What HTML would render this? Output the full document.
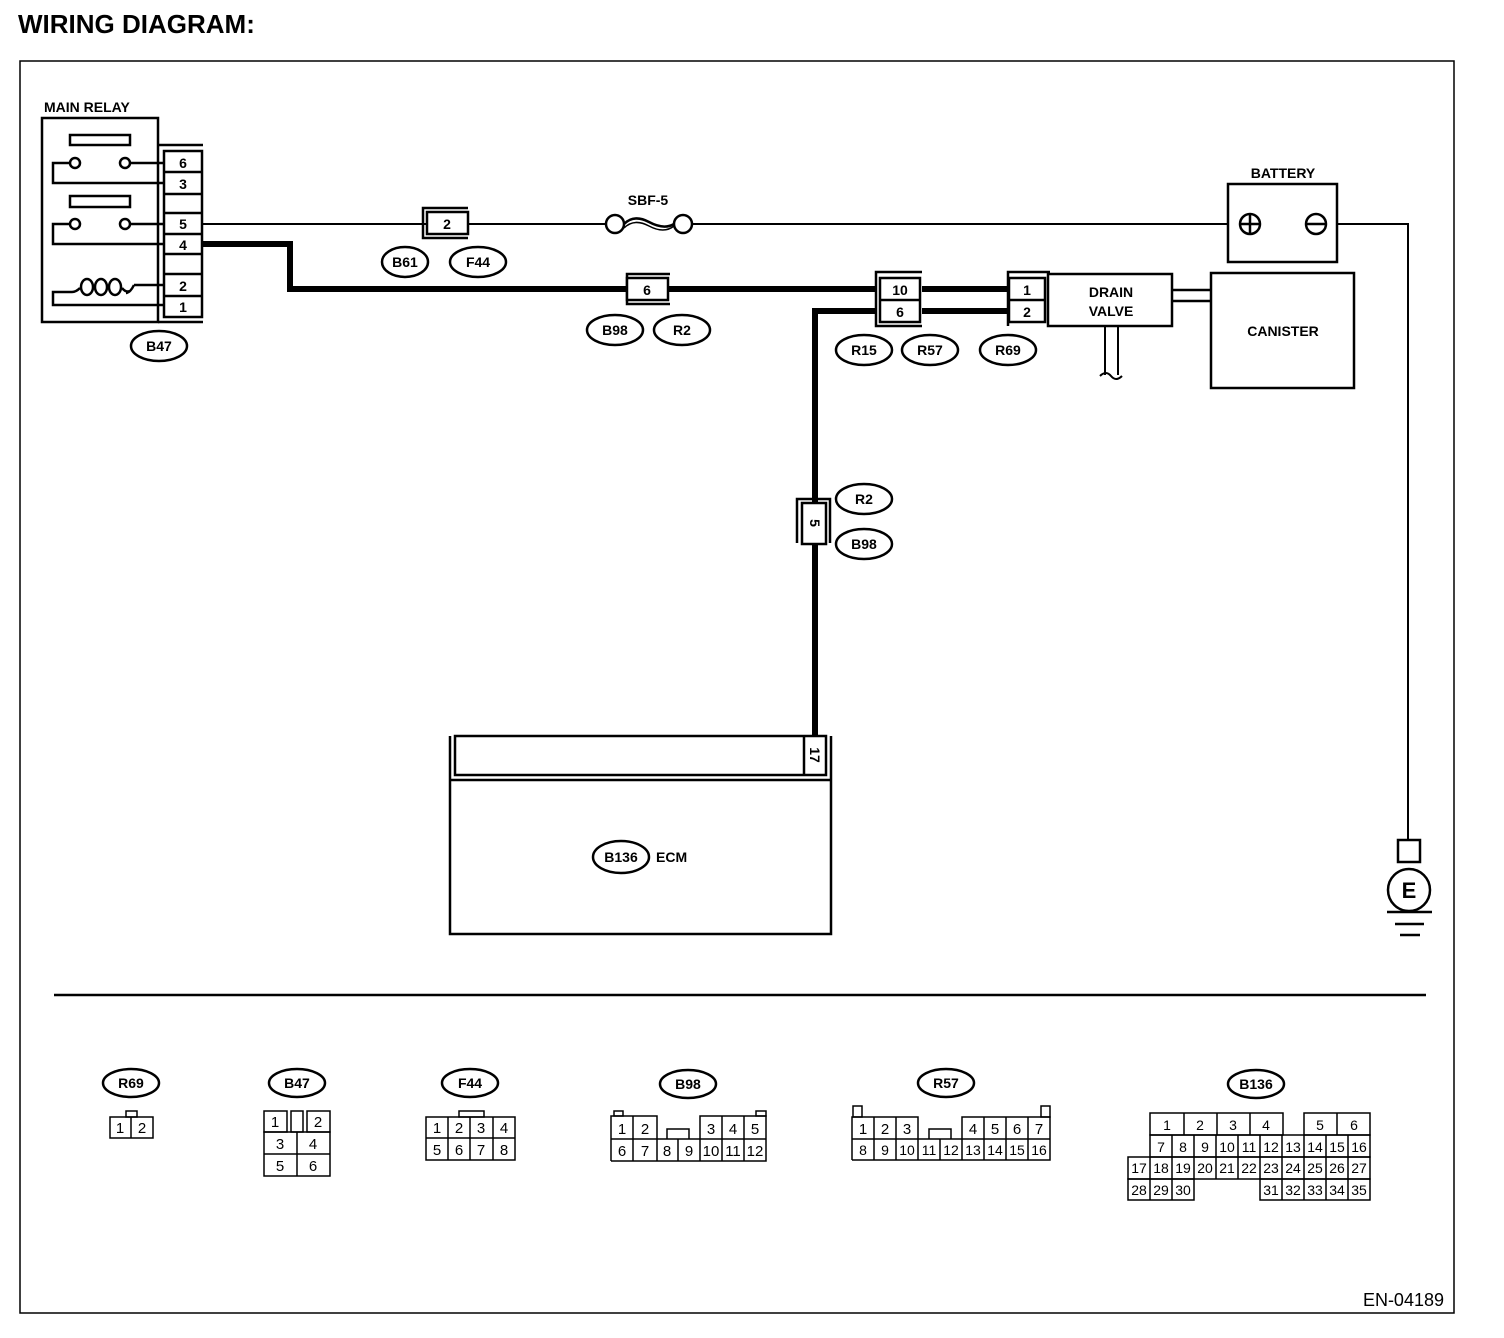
<!DOCTYPE html>
<html><head><meta charset="utf-8"><style>
html,body{margin:0;padding:0;background:#fff;}
svg{display:block;}
text{font-family:"Liberation Sans",sans-serif;fill:#000;}
.b{font-weight:bold;font-size:14px;}
.n{font-size:15px;}
</style></head><body>
<svg width="1504" height="1338" viewBox="0 0 1504 1338" xmlns="http://www.w3.org/2000/svg">
<text x="18" y="33" font-size="26" font-weight="bold">WIRING DIAGRAM:</text>
<rect x="20" y="61" width="1434" height="1252" fill="none" stroke="#000" stroke-width="1.5"/>

<g fill="none" stroke="#000" stroke-width="2.5">
<rect x="42" y="118" width="116" height="204"/>
<rect x="70" y="135" width="60" height="10"/>
<circle cx="75" cy="163" r="5"/><circle cx="125" cy="163" r="5"/>
<polyline points="70,163 53,163 53,183 164,183"/>
<line x1="130" y1="163" x2="164" y2="163"/>
<rect x="70" y="196" width="60" height="11"/>
<circle cx="75" cy="224" r="5"/><circle cx="125" cy="224" r="5"/>
<polyline points="70,224 53,224 53,244 164,244"/>
<line x1="130" y1="224" x2="164" y2="224"/>
<polyline points="164,285 134,285"/>
<path d="M134,285 Q130,293 126,293"/>
<ellipse cx="87" cy="287" rx="6" ry="8"/>
<ellipse cx="101" cy="287" rx="6" ry="8"/>
<ellipse cx="115" cy="287" rx="6" ry="8"/>
<path d="M72,292 Q76,292 80,288"/>
<path d="M122,288 Q126,293 130,291"/>
<polyline points="72,292 53,292 53,305 164,305"/>
<line x1="158" y1="145" x2="203" y2="145"/>
<line x1="158" y1="322" x2="203" y2="322"/>
<rect x="164" y="151" width="38" height="166"/>
<line x1="164" y1="172" x2="202" y2="172"/><line x1="164" y1="194" x2="202" y2="194"/>
<line x1="164" y1="213" x2="202" y2="213"/><line x1="164" y1="234" x2="202" y2="234"/>
<line x1="164" y1="254" x2="202" y2="254"/><line x1="164" y1="274" x2="202" y2="274"/>
<line x1="164" y1="296" x2="202" y2="296"/>
</g>
<text x="44" y="112" class="b">MAIN RELAY</text>
<g class="b" text-anchor="middle">
<text x="183" y="168">6</text><text x="183" y="189">3</text><text x="183" y="229">5</text>
<text x="183" y="250">4</text><text x="183" y="291">2</text><text x="183" y="312">1</text>
</g>

<g fill="none" stroke="#000">
<line x1="202" y1="224" x2="606" y2="224" stroke-width="2"/>
<line x1="692" y1="224" x2="1240" y2="224" stroke-width="2"/>
<polyline points="202,244 290,244 290,289 877,289" stroke-width="6"/>
<line x1="922" y1="289" x2="1008" y2="289" stroke-width="6"/>
<line x1="922" y1="311" x2="1008" y2="311" stroke-width="6"/>
<polyline points="876,311 815,311 815,737" stroke-width="6"/>
<polyline points="1326,224 1408,224 1408,840" stroke-width="2"/>
</g>

<g fill="#fff" stroke="#000" stroke-width="2.5">
<polyline points="468,208 423,208 423,238 468,238" fill="none"/>
<rect x="427" y="212" width="41" height="22"/>
<polyline points="670,274 627,274 627,304 670,304" fill="none"/>
<rect x="627" y="278" width="41" height="22"/>
</g>
<text x="447" y="229" class="b" text-anchor="middle">2</text>
<text x="647" y="295" class="b" text-anchor="middle">6</text>

<g fill="#fff" stroke="#000" stroke-width="2.5">
<circle cx="615" cy="224" r="9"/><circle cx="683" cy="224" r="9"/>
<path d="M624,224 Q634,214 649,222 Q664,230 674,224" fill="none"/>
<path d="M624,228 Q634,218 649,226 Q664,234 674,226" fill="none" stroke-width="1.5"/>
</g>
<text x="648" y="205" class="b" text-anchor="middle">SBF-5</text>

<g fill="#fff" stroke="#000" stroke-width="2.5">
<ellipse cx="159" cy="346" rx="28" ry="15"/>
<ellipse cx="405" cy="262" rx="23" ry="15"/><ellipse cx="478" cy="262" rx="28" ry="15"/>
<ellipse cx="615" cy="330" rx="28" ry="15"/><ellipse cx="682" cy="330" rx="28" ry="15"/>
<ellipse cx="864" cy="350" rx="28" ry="15"/><ellipse cx="930" cy="350" rx="28" ry="15"/><ellipse cx="1008" cy="350" rx="28" ry="15"/>
<ellipse cx="864" cy="499" rx="28" ry="15"/><ellipse cx="864" cy="544" rx="28" ry="15"/>
<ellipse cx="621" cy="857" rx="28" ry="16"/>
</g>
<g class="b" text-anchor="middle">
<text x="159" y="351">B47</text>
<text x="405" y="267">B61</text><text x="478" y="267">F44</text>
<text x="615" y="335">B98</text><text x="682" y="335">R2</text>
<text x="864" y="355">R15</text><text x="930" y="355">R57</text><text x="1008" y="355">R69</text>
<text x="864" y="504">R2</text><text x="864" y="549">B98</text>
<text x="621" y="862">B136</text>
</g>

<g fill="#fff" stroke="#000" stroke-width="2.5">
<polyline points="922,272 876,272 876,326 922,326" fill="none"/>
<rect x="880" y="278" width="40" height="44"/>
<line x1="880" y1="300" x2="920" y2="300"/>
<polyline points="1050,272 1008,272 1008,326" fill="none"/>
<rect x="1009" y="278" width="36" height="44"/>
<line x1="1009" y1="300" x2="1045" y2="300"/>
<rect x="1048" y="274" width="124" height="52" fill="none"/>
<line x1="1172" y1="290" x2="1211" y2="290"/><line x1="1172" y1="301" x2="1211" y2="301"/>
<rect x="1211" y="273" width="143" height="115" fill="none"/>
<line x1="1105" y1="326" x2="1105" y2="375" stroke-width="2"/><line x1="1118" y1="326" x2="1118" y2="375" stroke-width="2"/>
<path d="M1100,376 Q1106,370 1111,376 Q1116,382 1122,376" fill="none" stroke-width="2"/>
</g>
<g class="b" text-anchor="middle">
<text x="900" y="295">10</text><text x="900" y="317">6</text>
<text x="1027" y="295">1</text><text x="1027" y="317">2</text>
<text x="1111" y="297">DRAIN</text><text x="1111" y="316">VALVE</text>
<text x="1283" y="336">CANISTER</text>
<text x="1283" y="178">BATTERY</text>
</g>

<g fill="#fff" stroke="#000" stroke-width="2.5">
<rect x="1228" y="184" width="109" height="78"/>
<circle cx="1250" cy="224" r="10"/><circle cx="1316" cy="224" r="10"/>
<line x1="1240" y1="224" x2="1260" y2="224"/><line x1="1250" y1="214" x2="1250" y2="234"/>
<line x1="1306" y1="224" x2="1326" y2="224"/>
</g>

<g fill="#fff" stroke="#000" stroke-width="2.5">
<rect x="1398" y="840" width="22" height="22"/>
<circle cx="1409" cy="890" r="21"/>
<line x1="1387" y1="912" x2="1432" y2="912"/>
<line x1="1395" y1="924" x2="1424" y2="924"/>
<line x1="1400" y1="935" x2="1420" y2="935"/>
</g>
<text x="1409" y="898" font-size="22" font-weight="bold" text-anchor="middle">E</text>

<g fill="#fff" stroke="#000" stroke-width="2.5">
<polyline points="797,543 797,499 830,499 830,543" fill="none"/>
<rect x="802" y="503" width="24" height="41"/>
</g>
<text transform="translate(815,523) rotate(90)" class="b" text-anchor="middle" dy="5">5</text>

<g fill="none" stroke="#000" stroke-width="2.5">
<polyline points="450,736 450,934 831,934 831,736"/>
<rect x="455" y="736" width="371" height="39"/>
<line x1="450" y1="780" x2="831" y2="780"/>
<line x1="804" y1="736" x2="804" y2="775"/>
</g>
<text transform="translate(815,755) rotate(90)" class="b" text-anchor="middle" dy="5">17</text>
<text x="656" y="862" class="b">ECM</text>

<line x1="54" y1="995" x2="1426" y2="995" stroke="#000" stroke-width="2.5"/>

<g fill="#fff" stroke="#000" stroke-width="2.5">
<ellipse cx="131" cy="1083" rx="28" ry="14"/><ellipse cx="297" cy="1083" rx="28" ry="14"/>
<ellipse cx="470" cy="1083" rx="28" ry="14"/><ellipse cx="688" cy="1084" rx="28" ry="14"/>
<ellipse cx="946" cy="1083" rx="28" ry="14"/><ellipse cx="1256" cy="1084" rx="28" ry="14"/>
</g>
<g class="b" text-anchor="middle">
<text x="131" y="1088">R69</text><text x="297" y="1088">B47</text><text x="470" y="1088">F44</text>
<text x="688" y="1089">B98</text><text x="946" y="1088">R57</text><text x="1256" y="1089">B136</text>
</g>

<g fill="none" stroke="#000" stroke-width="1.5">
<rect x="110" y="1117" width="43" height="21"/><line x1="131" y1="1117" x2="131" y2="1138"/>
<rect x="126" y="1111" width="11" height="6"/>
<rect x="264" y="1111" width="23" height="21"/><rect x="291" y="1111" width="12" height="21"/><rect x="307" y="1111" width="23" height="21"/>
<rect x="264" y="1132" width="66" height="44"/><line x1="264" y1="1154" x2="330" y2="1154"/><line x1="297" y1="1132" x2="297" y2="1176"/>
<rect x="426" y="1117" width="89" height="43"/><line x1="426" y1="1138" x2="515" y2="1138"/>
<line x1="448" y1="1117" x2="448" y2="1160"/><line x1="470" y1="1117" x2="470" y2="1160"/><line x1="493" y1="1117" x2="493" y2="1160"/>
<rect x="459" y="1111" width="25" height="6"/>
<polyline points="611,1161 611,1116 657,1116 657,1139"/>
<polyline points="700,1139 700,1116 766,1116 766,1161 611,1161"/>
<line x1="611" y1="1139" x2="766" y2="1139"/>
<rect x="614" y="1111" width="9" height="5"/><rect x="756" y="1111" width="10" height="5"/>
<polyline points="667,1139 667,1129 689,1129 689,1139"/>
<line x1="633" y1="1116" x2="633" y2="1161"/><line x1="657" y1="1139" x2="657" y2="1161"/>
<line x1="678" y1="1139" x2="678" y2="1161"/><line x1="700" y1="1139" x2="700" y2="1161"/>
<line x1="722" y1="1116" x2="722" y2="1161"/><line x1="744" y1="1116" x2="744" y2="1161"/>
<polyline points="852,1160 852,1117 918,1117 918,1139"/>
<polyline points="962,1139 962,1117 1050,1117 1050,1160 852,1160"/>
<line x1="852" y1="1139" x2="1050" y2="1139"/>
<rect x="853" y="1106" width="9" height="11"/><rect x="1041" y="1106" width="9" height="11"/>
<polyline points="929,1139 929,1129 951,1129 951,1139"/>
<line x1="874" y1="1117" x2="874" y2="1160"/><line x1="896" y1="1117" x2="896" y2="1160"/>
<line x1="918" y1="1139" x2="918" y2="1160"/><line x1="940" y1="1139" x2="940" y2="1160"/>
<line x1="962" y1="1139" x2="962" y2="1160"/><line x1="984" y1="1117" x2="984" y2="1160"/>
<line x1="1006" y1="1117" x2="1006" y2="1160"/><line x1="1028" y1="1117" x2="1028" y2="1160"/>
<rect x="1150" y="1113" width="133" height="22"/>
<line x1="1184" y1="1113" x2="1184" y2="1135"/><line x1="1217" y1="1113" x2="1217" y2="1135"/><line x1="1250" y1="1113" x2="1250" y2="1135"/>
<rect x="1304" y="1113" width="66" height="22"/><line x1="1337" y1="1113" x2="1337" y2="1135"/>
<rect x="1150" y="1135" width="220" height="22"/>
<rect x="1128" y="1157" width="242" height="22"/>
<rect x="1128" y="1179" width="66" height="21"/>
<rect x="1260" y="1179" width="110" height="21"/>
<line x1="1172" y1="1135" x2="1172" y2="1200"/><line x1="1194" y1="1135" x2="1194" y2="1179"/>
<line x1="1150" y1="1157" x2="1150" y2="1200"/>
<line x1="1216" y1="1135" x2="1216" y2="1179"/><line x1="1238" y1="1135" x2="1238" y2="1179"/>
<line x1="1260" y1="1135" x2="1260" y2="1179"/><line x1="1282" y1="1135" x2="1282" y2="1200"/>
<line x1="1304" y1="1135" x2="1304" y2="1200"/><line x1="1326" y1="1135" x2="1326" y2="1200"/>
<line x1="1348" y1="1135" x2="1348" y2="1200"/>
</g>

<g class="n" text-anchor="middle">
<text x="120" y="1133">1</text><text x="142" y="1133">2</text>
<text x="275" y="1127">1</text><text x="318" y="1127">2</text>
<text x="280" y="1149">3</text><text x="313" y="1149">4</text>
<text x="280" y="1171">5</text><text x="313" y="1171">6</text>
<text x="437" y="1133">1</text><text x="459" y="1133">2</text><text x="481" y="1133">3</text><text x="504" y="1133">4</text>
<text x="437" y="1155">5</text><text x="459" y="1155">6</text><text x="481" y="1155">7</text><text x="504" y="1155">8</text>
<text x="622" y="1134">1</text><text x="645" y="1134">2</text><text x="711" y="1134">3</text><text x="733" y="1134">4</text><text x="755" y="1134">5</text>
<text x="622" y="1156">6</text><text x="645" y="1156">7</text><text x="667" y="1156">8</text><text x="689" y="1156">9</text><text x="711" y="1156">10</text><text x="733" y="1156">11</text><text x="755" y="1156">12</text>
<text x="863" y="1134">1</text><text x="885" y="1134">2</text><text x="907" y="1134">3</text>
<text x="973" y="1134">4</text><text x="995" y="1134">5</text><text x="1017" y="1134">6</text><text x="1039" y="1134">7</text>
</g>
<g font-size="14" text-anchor="middle">
<text x="863" y="1155">8</text><text x="885" y="1155">9</text><text x="907" y="1155">10</text><text x="929" y="1155">11</text><text x="951" y="1155">12</text>
<text x="973" y="1155">13</text><text x="995" y="1155">14</text><text x="1017" y="1155">15</text><text x="1039" y="1155">16</text>
<text x="1167" y="1130">1</text><text x="1200" y="1130">2</text><text x="1233" y="1130">3</text><text x="1266" y="1130">4</text>
<text x="1320" y="1130">5</text><text x="1354" y="1130">6</text>
<text x="1161" y="1152">7</text><text x="1183" y="1152">8</text><text x="1205" y="1152">9</text><text x="1227" y="1152">10</text><text x="1249" y="1152">11</text>
<text x="1271" y="1152">12</text><text x="1293" y="1152">13</text><text x="1315" y="1152">14</text><text x="1337" y="1152">15</text><text x="1359" y="1152">16</text>
<text x="1139" y="1173">17</text><text x="1161" y="1173">18</text><text x="1183" y="1173">19</text><text x="1205" y="1173">20</text><text x="1227" y="1173">21</text>
<text x="1249" y="1173">22</text><text x="1271" y="1173">23</text><text x="1293" y="1173">24</text><text x="1315" y="1173">25</text><text x="1337" y="1173">26</text><text x="1359" y="1173">27</text>
<text x="1139" y="1195">28</text><text x="1161" y="1195">29</text><text x="1183" y="1195">30</text>
<text x="1271" y="1195">31</text><text x="1293" y="1195">32</text><text x="1315" y="1195">33</text><text x="1337" y="1195">34</text><text x="1359" y="1195">35</text>
</g>

<text x="1444" y="1306" font-size="18" text-anchor="end">EN-04189</text>
</svg>
</body></html>
